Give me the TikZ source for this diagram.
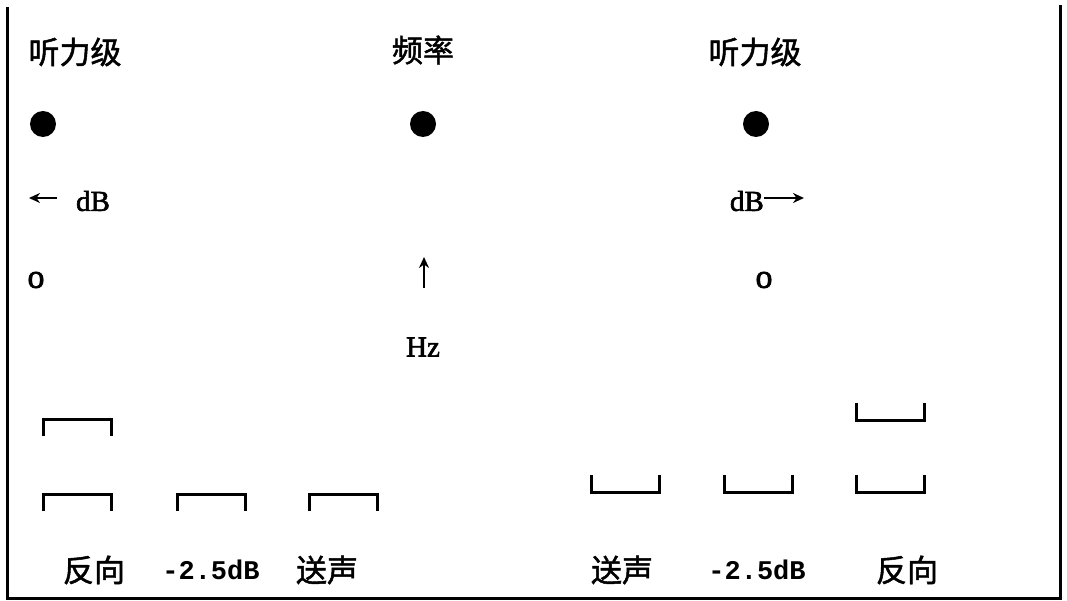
\documentclass[tikz,border=0pt]{standalone}
\usepackage{fontspec}
\setmainfont{Liberation Serif}
\newfontfamily\cjk[FakeBold=1.5]{Noto Sans CJK SC}
\newfontfamily\monof{Liberation Mono}
\newfontfamily\latf[FakeBold=2]{Liberation Serif}
\usetikzlibrary{arrows.meta}
\tikzset{
  cjklabel/.style={inner sep=0pt, font=\cjk\fontsize{31}{33}\selectfont},
  latlabel/.style={inner sep=0pt, font=\latf\fontsize{29}{31}\selectfont},
  numlabel/.style={inner sep=0pt, font=\monof\bfseries\fontsize{27}{30}\selectfont},
  dotmark/.style={circle, fill=black, inner sep=0pt, minimum size=26pt},
  frameline/.style={line width=3pt},
  bracketline/.style={line width=3pt},
  arrowline/.style={line width=2.6pt, -{Stealth[length=11pt,width=10pt]}},
}
\begin{document}
\begin{tikzpicture}[x=1pt,y=-1pt]
\useasboundingbox (0,0) rectangle (1067,601);
% frame
\coordinate (ftl) at (7.5,7);
\coordinate (fbl) at (7.5,598);
\coordinate (fbr) at (1060,598);
\coordinate (ftr) at (1060,5);
\draw[frameline] (ftl) -- (fbl) -- (fbr) -- (ftr);
% left column
\node[cjklabel] (tl) at (75,52) {听力级};
\node[dotmark] (dl) at (43,124) {};
\coordinate (al1) at (57,198);
\coordinate (al2) at (29,198);
\draw[arrowline] (al1) -- (al2);
\node[latlabel] (dbl) at (93,201) {dB};
\node[latlabel, font=\latf\fontsize{34}{36}\selectfont] (ol) at (36,280) {o};
% middle column
\node[cjklabel] (tm) at (423,50) {频率};
\node[dotmark] (dm) at (423,124) {};
\coordinate (am1) at (424,288);
\coordinate (am2) at (424,257);
\draw[arrowline] (am1) -- (am2);
\node[latlabel] (hz) at (423,347) {Hz};
% right column
\node[cjklabel] (tr) at (755,52) {听力级};
\node[dotmark] (dr) at (756,124) {};
\node[latlabel, anchor=east] (dbr) at (764,201) {dB};
\coordinate (ar1) at (764,198);
\coordinate (ar2) at (804,198);
\draw[arrowline] (ar1) -- (ar2);
\node[latlabel, font=\latf\fontsize{34}{36}\selectfont] (or) at (764,280) {o};
% left brackets (open downward)
\foreach \x/\y in {43/419, 43/494, 177/494, 309/494}{
  \draw[bracketline] (\x,\y+17) -- (\x,\y) -- (\x+68,\y) -- (\x+68,\y+17);
}
% right brackets (open upward)
\foreach \x/\y in {856/420, 591/492, 724/492, 856/492}{
  \draw[bracketline] (\x,\y-17) -- (\x,\y) -- (\x+68,\y) -- (\x+68,\y-17);
}
% bottom labels
\node[cjklabel] (l1) at (94,570) {反向};
\node[numlabel] (l2) at (211,570) {-2.5dB};
\node[cjklabel] (l3) at (327,570) {送声};
\node[cjklabel] (r1) at (622,570) {送声};
\node[numlabel] (r2) at (757,570) {-2.5dB};
\node[cjklabel] (r3) at (907,570) {反向};
\end{tikzpicture}
\end{document}
